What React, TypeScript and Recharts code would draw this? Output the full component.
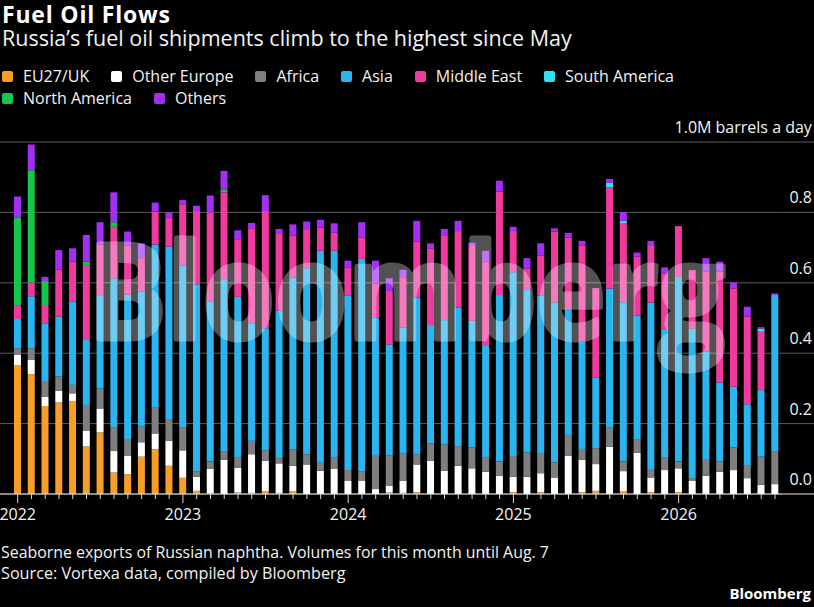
import { Bar, BarChart, CartesianGrid, XAxis, YAxis } from "recharts";

const months = [
  "2022-01", "2022-02", "2022-03", "2022-04", "2022-05", "2022-06", "2022-07", "2022-08", "2022-09", "2022-10", "2022-11", "2022-12",
  "2023-01", "2023-02", "2023-03", "2023-04", "2023-05", "2023-06", "2023-07", "2023-08", "2023-09", "2023-10", "2023-11", "2023-12",
  "2024-01", "2024-02", "2024-03", "2024-04", "2024-05", "2024-06", "2024-07", "2024-08", "2024-09", "2024-10", "2024-11", "2024-12",
  "2025-01", "2025-02", "2025-03", "2025-04", "2025-05", "2025-06", "2025-07", "2025-08", "2025-09", "2025-10", "2025-11", "2025-12",
  "2026-01", "2026-02", "2026-03", "2026-04", "2026-05", "2026-06", "2026-07", "2026-08",
];

// million barrels a day
const eu27uk = [
  0.365, 0.34, 0.25, 0.26, 0.264, 0.135, 0.175, 0.061, 0.056, 0.106, 0.127, 0.08,
  0.046, 0.009, 0.002, 0, 0.004, 0.003, 0.008, 0.003, 0.007, 0, 0, 0,
  0, 0, 0, 0.004, 0.003, 0.005, 0, 0, 0, 0, 0, 0,
  0.005, 0, 0.005, 0, 0, 0.005, 0.009, 0, 0.007, 0, 0.005, 0,
  0.005, 0, 0, 0, 0, 0, 0, 0,
];
const otherEurope = [
  0.03, 0.042, 0.026, 0.033, 0.022, 0.044, 0.068, 0.061, 0.052, 0.041, 0.045, 0.071,
  0.078, 0.04, 0.069, 0.097, 0.071, 0.11, 0.086, 0.084, 0.073, 0.084, 0.066, 0.071,
  0.037, 0.037, 0.014, 0.02, 0.035, 0.079, 0.094, 0.066, 0.08, 0.073, 0.063, 0.052,
  0.044, 0.049, 0.054, 0.047, 0.109, 0.092, 0.076, 0.134, 0.058, 0.117, 0.042, 0.068,
  0.068, 0.037, 0.052, 0.063, 0.068, 0.045, 0.026, 0.028,
];
const africa = [
  0.019, 0.032, 0.045, 0.041, 0.024, 0.074, 0.057, 0.066, 0.048, 0.044, 0.073, 0.062,
  0.064, 0.016, 0.021, 0.023, 0.028, 0.038, 0.03, 0.015, 0.047, 0.029, 0.023, 0.032,
  0.031, 0.028, 0.097, 0.085, 0.078, 0.029, 0.05, 0.075, 0.056, 0.059, 0.04, 0.04,
  0.059, 0.069, 0.057, 0.043, 0.059, 0.031, 0.045, 0.054, 0.027, 0.039, 0.024, 0.035,
  0.019, 0.008, 0.045, 0.029, 0.064, 0.035, 0.08, 0.092,
];
const asia = [
  0.083, 0.148, 0.164, 0.17, 0.236, 0.187, 0.265, 0.425, 0.41, 0.384, 0.464, 0.49,
  0.461, 0.531, 0.454, 0.488, 0.457, 0.334, 0.347, 0.419, 0.488, 0.528, 0.602, 0.588,
  0.495, 0.603, 0.39, 0.316, 0.357, 0.445, 0.336, 0.353, 0.394, 0.36, 0.32, 0.473,
  0.522, 0.462, 0.447, 0.454, 0.355, 0.305, 0.2, 0.396, 0.453, 0.351, 0.473, 0.363,
  0.525, 0.425, 0.307, 0.225, 0.173, 0.175, 0.189, 0.445,
];
const middleEast = [
  0.038, 0.039, 0.052, 0.134, 0.114, 0.208, 0.144, 0.146, 0.14, 0.095, 0.093, 0.082,
  0.174, 0.208, 0.254, 0.249, 0.162, 0.27, 0.333, 0.22, 0.119, 0.109, 0.066, 0.051,
  0.08, 0.06, 0.097, 0.152, 0.143, 0.159, 0.218, 0.239, 0.217, 0.215, 0.237, 0.294,
  0.117, 0.061, 0.114, 0.201, 0.205, 0.272, 0.255, 0.287, 0.223, 0.167, 0.163, 0.161,
  0.144, 0.166, 0.228, 0.315, 0.279, 0.249, 0.166, 0,
];
const southAmerica = [
  0, 0, 0, 0, 0, 0, 0, 0, 0, 0, 0, 0,
  0, 0, 0, 0, 0, 0, 0, 0, 0, 0, 0, 0,
  0, 0, 0, 0, 0, 0, 0, 0, 0, 0, 0, 0,
  0, 0, 0, 0, 0, 0, 0, 0.013, 0.008, 0, 0, 0,
  0, 0, 0, 0, 0, 0, 0.009, 0,
];
const northAmerica = [
  0.25, 0.319, 0.068, 0, 0, 0.012, 0, 0.013, 0, 0, 0, 0,
  0, 0, 0, 0.007, 0, 0, 0, 0, 0, 0, 0, 0,
  0, 0, 0, 0, 0, 0, 0, 0, 0, 0, 0, 0,
  0, 0, 0, 0, 0, 0, 0, 0, 0, 0, 0, 0,
  0, 0, 0, 0, 0, 0, 0, 0,
];
const others = [
  0.06, 0.073, 0.012, 0.055, 0.038, 0.076, 0.063, 0.085, 0.04, 0.042, 0.026, 0.015,
  0.012, 0.015, 0.048, 0.054, 0.027, 0.015, 0.045, 0.012, 0.032, 0.024, 0.022, 0.027,
  0.02, 0.044, 0.065, 0.036, 0.021, 0.059, 0.014, 0.02, 0.029, 0.007, 0.031, 0.031,
  0.012, 0.029, 0.035, 0.01, 0.014, 0.014, 0, 0.011, 0.025, 0.012, 0.012, 0.017,
  0, 0, 0.038, 0.028, 0.017, 0.028, 0.004, 0.005,
];

const yTicks = [0, 0.2, 0.4, 0.6, 0.8, 1.0];

const series = [
  { key: "eu", name: "EU27/UK", color: "#f99d29", values: eu27uk },
  { key: "oe", name: "Other Europe", color: "#ffffff", values: otherEurope },
  { key: "af", name: "Africa", color: "#7f7f7f", values: africa },
  { key: "as", name: "Asia", color: "#2ab4f0", values: asia },
  { key: "me", name: "Middle East", color: "#f03a9e", values: middleEast },
  { key: "sa", name: "South America", color: "#2ee2f2", values: southAmerica },
  { key: "na", name: "North America", color: "#16c64a", values: northAmerica },
  { key: "ot", name: "Others", color: "#a32ff5", values: others },
];

const data = months.map((month, i) => {
  const row: Record<string, number | string> = { month };
  series.forEach((s) => (row[s.key] = s.values[i]));
  return row;
});

const FONT = "'Open Sans', 'Noto Sans', sans-serif";
const TEXT = "#f2f2f2";

function MonthTick({ x, y, payload }: any) {
  const jan = String(payload.value).endsWith("-01");
  return (
    <g>
      <line x1={x} x2={x} y1={y} y2={y + (jan ? 9 : 5)} stroke="#d8d8d8" strokeWidth={1} />
      {jan && (
        <text x={x} y={y + 26} textAnchor="middle" fill={TEXT} fontSize={16} fontFamily={FONT}>
          {String(payload.value).slice(0, 4)}
        </text>
      )}
    </g>
  );
}

function ValueTick({ x, y, payload }: any) {
  const v = Number(payload.value);
  const label = v === 1 ? "1.0M barrels a day" : v.toFixed(1);
  return (
    <g>
      <line x1={x} x2={x + 33} y1={y} y2={y} stroke={v === 0 ? "#e6e6e6" : "#5c5c5c"} strokeWidth={1} />
      <text x={x + 30} y={y - 9} textAnchor="end" fill={TEXT} fontSize={16} fontFamily={FONT}>
        {label}
      </text>
    </g>
  );
}

const legendRows = [series.slice(0, 6), series.slice(6)];

export default function App() {
  return (
    <div style={{ position: "relative", width: 814, height: 607, background: "#000", fontFamily: FONT, overflow: "hidden" }}>
      <style>{`body{margin:0;background:#000}`}</style>
      <svg width={814} height={607} style={{ position: "absolute", left: 0, top: 0 }}>
        <text x={2} y={23} fill="#fff" fontSize={23} fontWeight={700} letterSpacing={0.8} fontFamily={FONT}>
          Fuel Oil Flows
        </text>
        <text x={2} y={46} fill={TEXT} fontSize={21.5} fontFamily={FONT}>
          Russia’s fuel oil shipments climb to the highest since May
        </text>
        <text x={1} y={558} fill={TEXT} fontSize={15.9} fontFamily={FONT}>
          Seaborne exports of Russian naphtha. Volumes for this month until Aug. 7
        </text>
        <text x={1} y={579} fill={TEXT} fontSize={16.2} fontFamily={FONT}>
          Source: Vortexa data, compiled by Bloomberg
        </text>
        <text x={811} y={599} textAnchor="end" fill="#fff" fontSize={15} fontWeight={700} fontFamily={FONT}>
          Bloomberg
        </text>
      </svg>
      {legendRows.map((row, r) => (
        <div
          key={r}
          style={{ position: "absolute", left: 2, top: 65 + r * 22, height: 22, display: "flex", alignItems: "center", gap: 22 }}
        >
          {row.map((s) => (
            <div key={s.key} style={{ display: "flex", alignItems: "center", gap: 10, color: TEXT, fontSize: 16 }}>
              <span style={{ width: 11, height: 11, borderRadius: 2, background: s.color, display: "inline-block" }} />
              <span style={{ lineHeight: "22px" }}>{s.name}</span>
            </div>
          ))}
        </div>
      ))}
      <div style={{ position: "absolute", left: 0, top: 0 }}>
        <BarChart
          width={814}
          height={530}
          data={data}
          margin={{ top: 142, right: 0, bottom: 6, left: 0 }}
          barCategoryGap="23%"
        >
          <CartesianGrid vertical={false} stroke="#5c5c5c" />
          <XAxis
            dataKey="month"
            interval={0}
            padding={{ left: 10.8, right: 0 }}
            height={30}
            tickSize={0}
            tickMargin={0}
            tickLine={false}
            axisLine={{ stroke: "#e6e6e6" }}
            tick={<MonthTick />}
          />
          <YAxis
            orientation="right"
            width={32.1}
            domain={[0, 1]}
            ticks={yTicks}
            tickSize={0}
            tickMargin={0}
            tickLine={false}
            axisLine={false}
            tick={<ValueTick />}
          />
          {series.map((s) => (
            <Bar key={s.key} dataKey={s.key} name={s.name} stackId="flows" fill={s.color} isAnimationActive={false} />
          ))}
        </BarChart>
      </div>
      <svg width={814} height={607} style={{ position: "absolute", left: 0, top: 0, pointerEvents: "none" }}>
        <g opacity={0.32}>
          <text
            x={88}
            y={339}
            textLength={637}
            lengthAdjust="spacingAndGlyphs"
            fill="#fff"
            stroke="#fff"
            strokeWidth={5}
            strokeLinejoin="round"
            fontSize={133}
            fontWeight={700}
            fontFamily={FONT}
          >
            Bloomberg
          </text>
        </g>
      </svg>
    </div>
  );
}
